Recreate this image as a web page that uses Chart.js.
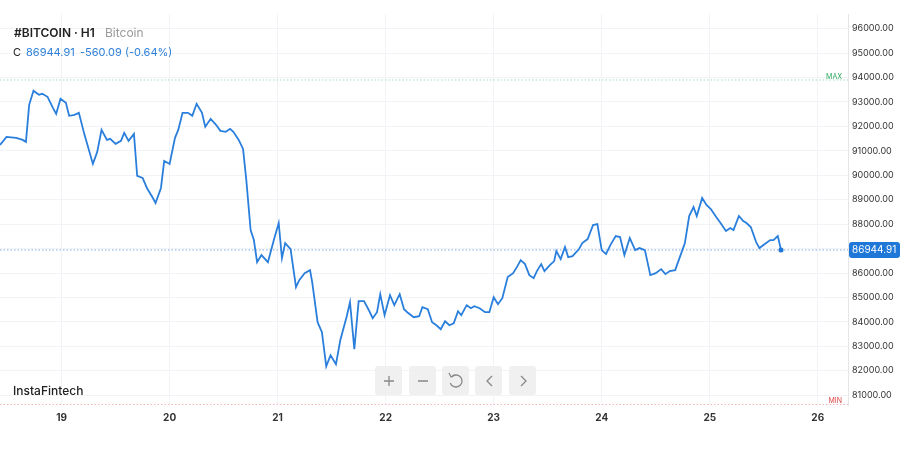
<!DOCTYPE html>
<html><head><meta charset="utf-8">
<script src="https://cdn.jsdelivr.net/npm/chart.js@4"></script>
<style>html,body{margin:0;padding:0;background:#fff}#w{width:900px;height:450px}</style>
</head><body><div id="w"><canvas id="c"></canvas></div>
<script>
const days=[18.43,18.49,18.58,18.64,18.67,18.70,18.74,18.79,18.82,18.87,18.92,18.95,18.99,19.04,19.07,19.12,19.16,19.21,19.29,19.33,19.37,19.42,19.45,19.50,19.55,19.58,19.62,19.67,19.70,19.75,19.79,19.84,19.87,19.92,19.95,20.00,20.05,20.08,20.12,20.17,20.21,20.25,20.30,20.33,20.38,20.43,20.47,20.52,20.56,20.59,20.64,20.68,20.71,20.75,20.78,20.81,20.85,20.91,20.97,21.01,21.04,21.07,21.12,21.17,21.20,21.25,21.30,21.32,21.37,21.41,21.45,21.49,21.54,21.58,21.64,21.67,21.71,21.75,21.80,21.84,21.88,21.92,21.95,21.99,22.04,22.08,22.13,22.17,22.20,22.26,22.31,22.34,22.39,22.43,22.47,22.51,22.55,22.59,22.63,22.67,22.70,22.75,22.79,22.82,22.87,22.92,22.96,23.00,23.04,23.08,23.13,23.18,23.22,23.25,23.29,23.33,23.37,23.40,23.44,23.47,23.52,23.56,23.58,23.62,23.66,23.69,23.73,23.79,23.82,23.87,23.92,23.96,24.00,24.04,24.08,24.13,24.17,24.21,24.26,24.31,24.35,24.40,24.45,24.50,24.55,24.59,24.63,24.68,24.72,24.77,24.81,24.85,24.88,24.93,24.97,25.01,25.06,25.10,25.15,25.19,25.22,25.27,25.31,25.34,25.38,25.43,25.46,25.51,25.56,25.59,25.63,25.66];
const prices=[91244,91572,91531,91449,91367,92884,93458,93294,93335,93212,92761,92515,93130,92966,92433,92474,92556,91695,90465,90957,91859,91449,91490,91285,91408,91736,91408,91695,89973,89891,89481,89112,88866,89481,90588,90465,91531,91859,92556,92556,92433,92925,92556,91982,92310,92064,91818,91777,91900,91777,91449,91080,89809,87759,87349,86447,86734,86447,87431,88046,86611,87226,86980,85422,85709,85996,86119,85627,83987,83577,82183,82634,82265,83249,84233,84807,82880,84848,84848,84520,84151,84397,85135,84274,85094,84684,85135,84520,84397,84192,84233,84602,84520,83987,83864,83700,84028,83864,83946,84438,84274,84684,84561,84643,84561,84397,84397,85012,84725,84971,85832,85996,86283,86529,86365,85914,85791,86078,86365,86078,86324,86488,86898,86570,87062,86652,86693,86980,87226,87390,87964,88005,86939,86775,87144,87513,87472,86734,87431,86939,87021,86939,85914,85996,86160,85955,86078,86119,86611,87226,88333,88702,88333,89071,88784,88620,88292,88046,87718,87841,87759,88333,88128,88046,87882,87267,87021,87185,87349,87349,87513,86944];
const dayTicks=[19,20,21,22,23,24,25,26];
const priceTicks=[81000,82000,83000,84000,85000,86000,87000,88000,89000,90000,91000,92000,93000,94000,95000,96000];
const lastPrice=86944.91, maxLine=93900, minLine=80620;
const pts=days.map((d,i)=>({x:d,y:prices[i]}));
const FONT='"Inter","Noto Sans",sans-serif';
const extras={id:'extras',
 beforeDatasetsDraw(ch){const c=ch.ctx,a=ch.chartArea,y=ch.scales.y;
  c.save();c.setLineDash([1.5,2]);c.lineWidth=1;
  let yy=y.getPixelForValue(maxLine);c.strokeStyle='#a6dcbc';c.beginPath();c.moveTo(a.left,yy);c.lineTo(a.right,yy);c.stroke();
  yy=y.getPixelForValue(minLine);c.strokeStyle='#f2b4b4';c.beginPath();c.moveTo(a.left,yy);c.lineTo(a.right,yy);c.stroke();
  yy=y.getPixelForValue(lastPrice);c.strokeStyle='#7aa9e6';c.beginPath();c.moveTo(a.left,yy);c.lineTo(a.right,yy);c.stroke();
  c.restore();},
 afterDraw(ch){const c=ch.ctx,a=ch.chartArea,y=ch.scales.y;c.save();
  c.font='7px '+FONT;c.textAlign='right';c.textBaseline='middle';
  c.fillStyle='#2eaa60';c.fillText('MAX',842,y.getPixelForValue(maxLine)-3);
  c.fillStyle='#e04848';c.fillText('MIN',842,y.getPixelForValue(minLine)-4);
  const yy=y.getPixelForValue(lastPrice);
  c.fillStyle='#1f78d8';c.beginPath();c.roundRect(849,yy-8,51,16,3);c.fill();
  c.fillStyle='#fff';c.font='10px '+FONT;c.textAlign='left';c.fillText('86944.91',852,yy);
  c.beginPath();c.arc(ch.scales.x.getPixelForValue(days[days.length-1]),y.getPixelForValue(prices[prices.length-1]),2.5,0,7);c.fillStyle='#1f78d8';c.fill();
  c.textAlign='left';c.textBaseline='alphabetic';
  c.font='600 12px '+FONT;c.fillStyle='#222';c.fillText('#BITCOIN · H1',14,37);
  c.font='12px '+FONT;c.fillStyle='#999';c.fillText('Bitcoin',105,37);
  c.font='11px '+FONT;c.fillStyle='#222';c.fillText('C',13,56);
  c.fillStyle='#2d7fd8';c.fillText('86944.91',26,56);c.fillText('-560.09 (-0.64%)',80,56);
  c.font='500 12px '+FONT;c.fillStyle='#222';c.fillText('InstaFintech',13,395);
  const bx=[375,409,442,475,509];c.fillStyle='rgba(238,238,238,0.9)';
  bx.forEach(x=>{c.beginPath();c.roundRect(x,366,27,29,3);c.fill();});
  c.strokeStyle='#888';c.lineWidth=1.3;c.beginPath();
  c.moveTo(384,381);c.lineTo(394,381);c.moveTo(389,376);c.lineTo(389,386);
  c.moveTo(418,381);c.lineTo(428,381);
  c.moveTo(492,376);c.lineTo(487,381);c.lineTo(492,386);
  c.moveTo(521,376);c.lineTo(526,381);c.lineTo(521,386);c.stroke();
  c.beginPath();c.arc(456,381,6,-2.4,2.8);c.stroke();
  c.beginPath();c.moveTo(449,373);c.lineTo(451,377);c.lineTo(455,375);c.stroke();
  c.restore();}};
new Chart(document.getElementById('c'),{type:'line',
 data:{datasets:[{data:pts,borderColor:'#2a7fdc',borderWidth:1.8,pointRadius:0,tension:0,fill:false}]},
 options:{responsive:true,maintainAspectRatio:false,animation:false,
  layout:{padding:{top:14,left:0,right:0,bottom:0}},
  plugins:{legend:{display:false},tooltip:{enabled:false}},
  scales:{
   x:{type:'linear',min:18.43,max:26.28,afterBuildTicks:s=>{s.ticks=dayTicks.map(v=>({value:v}));},
    afterFit:s=>{s.height=45;},
    grid:{color:'#f1f3f6',drawTicks:false},border:{display:false},
    ticks:{padding:7,font:{family:FONT,size:10,weight:'bold'},color:'#333',callback:v=>v}},
   y:{position:'right',min:80600,max:96600,afterBuildTicks:s=>{s.ticks=priceTicks.map(v=>({value:v}));},
    afterFit:s=>{s.width=52;},
    grid:{color:'#f1f3f6',drawTicks:false},border:{display:true,color:'#e6e6e6'},
    ticks:{padding:4,font:{family:FONT,size:9},color:'#333',callback:v=>v.toFixed(2)}}}},
 plugins:[extras]});
</script></body></html>
